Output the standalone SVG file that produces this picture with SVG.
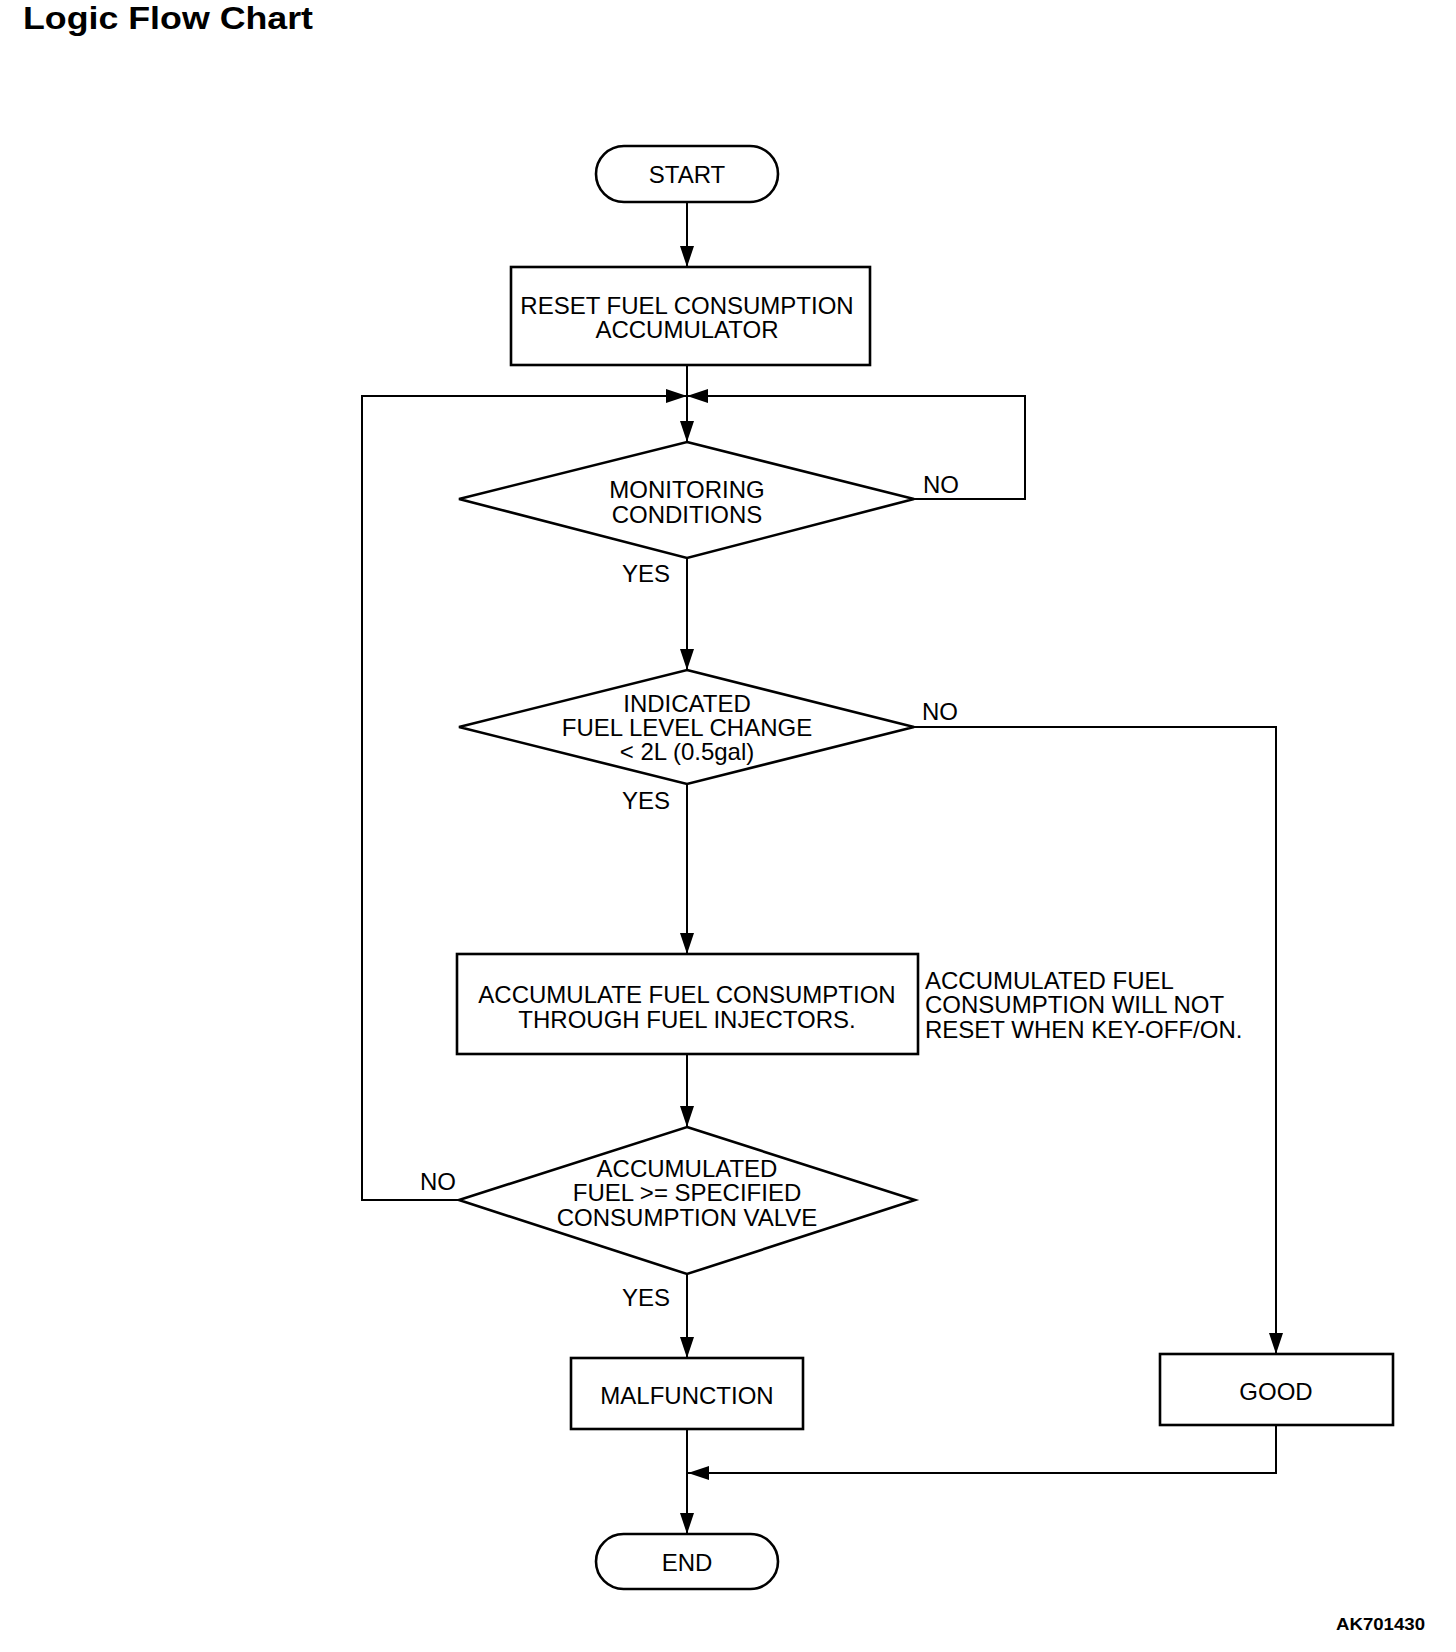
<svg xmlns="http://www.w3.org/2000/svg" width="1456" height="1652" viewBox="0 0 1456 1652">
<defs>
<marker id="arr" viewBox="0 0 21 14" refX="21" refY="7" markerWidth="21" markerHeight="14" markerUnits="userSpaceOnUse" orient="auto">
<path d="M0,0 L21,7 L0,14 Z" fill="#000"/>
</marker>
</defs>
<style>
text{font-family:"Liberation Sans",Arial,sans-serif;fill:#000}
.t{font-size:24px;text-anchor:middle}
.l{font-size:24px}
.shape{fill:#fff;stroke:#000;stroke-width:2.6}
.c{fill:none;stroke:#000;stroke-width:2}
</style>
<rect width="1456" height="1652" fill="#fff"/>
<text x="23" y="29" font-size="32" font-weight="bold" textLength="290" lengthAdjust="spacingAndGlyphs">Logic Flow Chart</text>

<g id="connectors">
<line class="c" x1="687" y1="202" x2="687" y2="267" marker-end="url(#arr)"/>
<line class="c" x1="687" y1="365" x2="687" y2="442" marker-end="url(#arr)"/>
<polyline class="c" points="914,499 1025,499 1025,396 687,396" marker-end="url(#arr)"/>
<polyline class="c" points="459,1200 362,1200 362,396 687,396" marker-end="url(#arr)"/>
<line class="c" x1="687" y1="558" x2="687" y2="670" marker-end="url(#arr)"/>
<polyline class="c" points="914,727 1276,727 1276,1354" marker-end="url(#arr)"/>
<line class="c" x1="687" y1="784" x2="687" y2="954" marker-end="url(#arr)"/>
<line class="c" x1="687" y1="1054" x2="687" y2="1127" marker-end="url(#arr)"/>
<line class="c" x1="687" y1="1274" x2="687" y2="1358" marker-end="url(#arr)"/>
<line class="c" x1="687" y1="1429" x2="687" y2="1534" marker-end="url(#arr)"/>
<polyline class="c" points="1276,1425 1276,1473 688,1473" marker-end="url(#arr)"/>
<text class="l" x="923" y="493">NO</text>
<text class="l" x="622" y="582">YES</text>
<text class="l" x="922" y="720">NO</text>
<text class="l" x="622" y="809">YES</text>
<text class="l" x="420" y="1190">NO</text>
<text class="l" x="622" y="1306">YES</text>
</g>

<g id="start">
<rect class="shape" x="596" y="146" width="182" height="56" rx="28" ry="28"/>
<text class="t" x="687" y="183" font-size="26">START</text>
</g>

<g id="reset">
<rect class="shape" x="511" y="267" width="359" height="98"/>
<text class="t" x="687" y="314">RESET FUEL CONSUMPTION</text>
<text class="t" x="687" y="338">ACCUMULATOR</text>
</g>

<g id="monitoring">
<polygon class="shape" points="687,442 914,499 687,558 459,499"/>
<text class="t" x="687" y="498">MONITORING</text>
<text class="t" x="687" y="523">CONDITIONS</text>
</g>

<g id="fuel-level">
<polygon class="shape" points="687,670 914,727 687,784 459,727"/>
<text class="t" x="687" y="712">INDICATED</text>
<text class="t" x="687" y="736">FUEL LEVEL CHANGE</text>
<text class="t" x="687" y="760">&lt; 2L (0.5gal)</text>
</g>

<g id="accumulate">
<rect class="shape" x="457" y="954" width="461" height="100"/>
<text class="t" x="687" y="1003">ACCUMULATE FUEL CONSUMPTION</text>
<text class="t" x="687" y="1028">THROUGH FUEL INJECTORS.</text>
</g>

<g id="note">
<text class="l" x="925" y="989">ACCUMULATED FUEL</text>
<text class="l" x="925" y="1013">CONSUMPTION WILL NOT</text>
<text class="l" x="925" y="1038">RESET WHEN KEY-OFF/ON.</text>
</g>

<g id="accumulated">
<polygon class="shape" points="687,1127 915,1200 687,1274 459,1200"/>
<text class="t" x="687" y="1177">ACCUMULATED</text>
<text class="t" x="687" y="1201">FUEL &gt;= SPECIFIED</text>
<text class="t" x="687" y="1226">CONSUMPTION VALVE</text>
</g>

<g id="malfunction">
<rect class="shape" x="571" y="1358" width="232" height="71"/>
<text class="t" x="687" y="1404">MALFUNCTION</text>
</g>

<g id="good">
<rect class="shape" x="1160" y="1354" width="233" height="71"/>
<text class="t" x="1276" y="1400">GOOD</text>
</g>

<g id="end">
<rect class="shape" x="596" y="1534" width="182" height="55" rx="27.5" ry="27.5"/>
<text class="t" x="687" y="1571" font-size="26">END</text>
</g>

<text x="1336" y="1630" font-size="17" font-weight="bold" textLength="89" lengthAdjust="spacingAndGlyphs">AK701430</text>
</svg>
